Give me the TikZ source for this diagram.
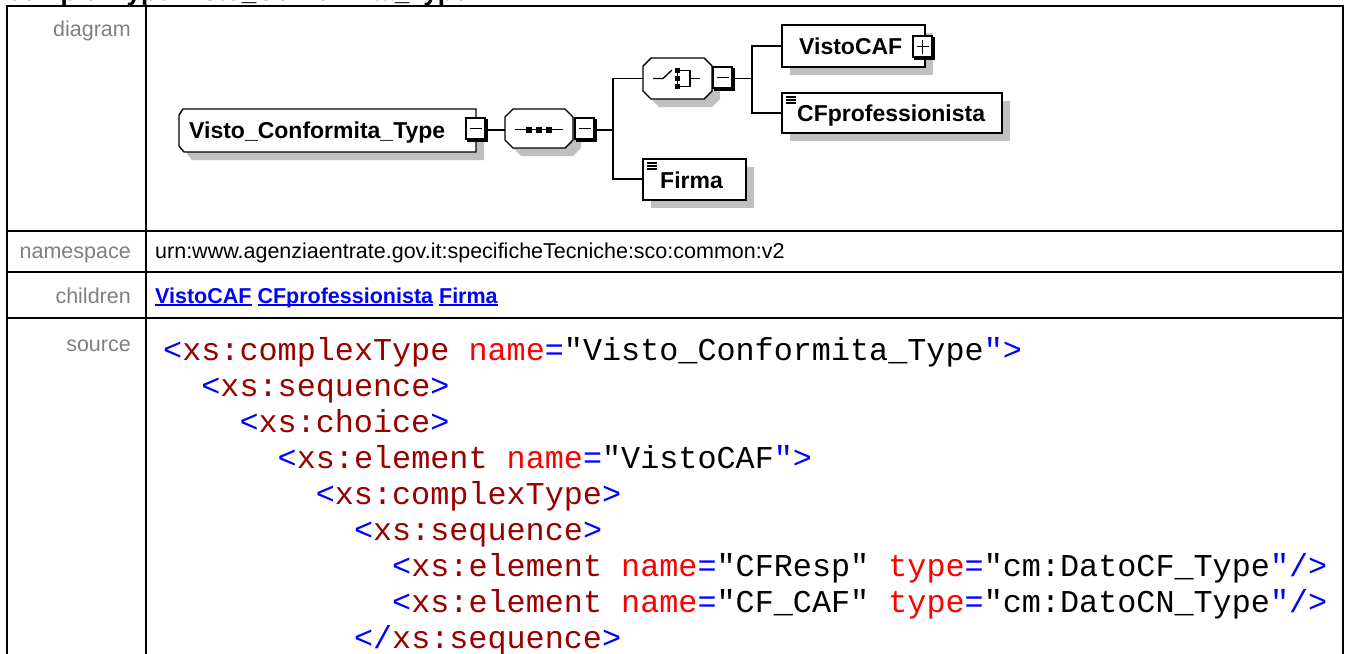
\documentclass[tikz,border=0pt]{standalone}
\usepackage{fontspec}
\setmainfont{Liberation Sans}
\setmonofont{Liberation Mono}
\definecolor{lblgray}{HTML}{808080}
\definecolor{shd}{HTML}{C0C0C0}
\definecolor{cblue}{HTML}{0000FF}
\definecolor{ctag}{HTML}{990000}
\definecolor{cattr}{HTML}{FF0000}
\definecolor{lnk}{HTML}{0000FF}
\newcommand\cB[1]{\textcolor{cblue}{#1}}
\newcommand\cT[1]{\textcolor{ctag}{#1}}
\newcommand\cA[1]{\textcolor{cattr}{#1}}
\newcommand\lnkword[1]{\setbox0\hbox{#1}\rlap{\rule[-3pt]{\wd0}{1.8pt}}\box0\relax}
\newcommand\xsMinus[2]{%
  \draw[fill=white, line width=1.2pt] (#1,#2) rectangle ++(19,21);
  \draw[line width=2.6pt] (#1+20.2,#2+1) -- (#1+20.2,#2+22.3) -- (#1+1,#2+22.3);
  \draw[line width=1.4pt] (#1+3.5,#2+10.5) -- ++(12,0);}
\newcommand\xsPlus[2]{%
  \xsMinus{#1}{#2}
  \draw[line width=1.4pt] (#1+9.5,#2+3.5) -- ++(0,14);}
\tikzset{
  tbl/.style={line width=2pt, line cap=rect},
  lbl/.style={anchor=base east, inner sep=0, text=lblgray, font=\fontsize{21.5pt}{26pt}\selectfont},
  val/.style={anchor=base west, inner sep=0, font=\fontsize{21.5pt}{26pt}\selectfont},
  etext/.style={anchor=base west, inner sep=0, font=\fontsize{23pt}{27pt}\selectfont\bfseries},
  code/.style={anchor=base west, inner sep=0, font=\fontsize{31.8pt}{36pt}\selectfont\ttfamily},
  outline/.style={draw=black, line width=1.4pt, fill=white},
  shadowfill/.style={fill=shd, draw=none},
  conn/.style={line width=1.4pt},
  icon/.style={line width=1.3pt},
}
\begin{document}
\begin{tikzpicture}[x=1pt, y=-1pt]
\useasboundingbox (0,0) rectangle (1348,653);
\clip (0,0) rectangle (1348,653);
\fill[white] (0,0) rectangle (1348,653);

% title (cut off by the top edge, as in the reference)
\node[anchor=base west, inner sep=0, font=\fontsize{26pt}{30pt}\selectfont\bfseries] (title) at (7,0.5) {complexType Visto\_Conformita\_Type};

% table
\draw[tbl] (7,6) -- (1343,6);
\draw[tbl] (7,6) -- (7,660);
\draw[tbl] (1343,6) -- (1343,660);
\draw[tbl] (146,6) -- (146,660);
\draw[tbl] (7,231) -- (1343,231);
\draw[tbl] (7,272) -- (1343,272);
\draw[tbl] (7,318) -- (1343,318);

% row labels
\node[lbl] (ldiag) at (131,36) {diagram};
\node[lbl] (lns) at (131,258) {namespace};
\node[lbl] (lch) at (131,303) {children};
\node[lbl] (lsrc) at (131,351) {source};

% namespace and children
\node[val] (ns) at (155,258) {urn:www.agenziaentrate.gov.it:specificheTecniche:sco:common:v2};
\node[val, font=\fontsize{21.5pt}{26pt}\selectfont\bfseries, text=lnk] (ch) at (155,303)
  {\lnkword{VistoCAF} \lnkword{CFprofessionista} \lnkword{Firma}};

% ---------- diagram ----------
% shadows
\path[shadowfill, shift={(8,8)}] (183,109) -- (476,109) -- (476,152) -- (184,152) -- (179,146) -- (179,115) -- cycle;
\path[shadowfill, shift={(8,8)}] (513,109) -- (565,109) -- (573,117) -- (573,140) -- (565,148) -- (513,148) -- (505,140) -- (505,117) -- cycle;
\path[shadowfill, shift={(8,8)}] (651,58) -- (704,58) -- (712,66) -- (712,91) -- (704,99) -- (651,99) -- (643,91) -- (643,66) -- cycle;
\fill[shd] (790,33) rectangle (933,75);
\fill[shd] (790,101) rectangle (1010,141);
\fill[shd] (651,167) rectangle (754,208);

% outlines
\draw[outline] (183,109) -- (476,109) -- (476,152) -- (184,152) -- (179,146) -- (179,115) -- cycle;
\draw[outline] (513,109) -- (565,109) -- (573,117) -- (573,140) -- (565,148) -- (513,148) -- (505,140) -- (505,117) -- cycle;
\draw[outline] (651,58) -- (704,58) -- (712,66) -- (712,91) -- (704,99) -- (651,99) -- (643,91) -- (643,66) -- cycle;
\draw[outline] (782,25) rectangle (925,67);
\draw[outline] (782,93) rectangle (1002,133);
\draw[outline] (643,159) rectangle (746,200);

% element texts
\node[etext] (vct) at (189,138) {Visto\_Conformita\_Type};
\node[etext] (visto) at (799,54) {VistoCAF};
\node[etext] (cfp) at (797,121) {CFprofessionista};
\node[etext] (firma) at (660,188) {Firma};

% simple-type icons
\foreach \yy in {97,100,103} \draw[line width=1.2pt] (786,\yy) -- (796,\yy);
\foreach \yy in {163,166,169} \draw[line width=1.2pt] (647,\yy) -- (657,\yy);

% sequence icon
\draw[icon] (515,129.5) -- (563,129.5);
\foreach \xx in {529,539,549} \fill (\xx-3,126.5) rectangle (\xx+3,132.5);

% choice icon
\draw[icon] (653,78.5) -- (663,78.5) -- (672,70);
\draw[line width=1pt] (677.5,70.5) -- (677.5,86.5);
\foreach \yy in {70.5,78.5,86.5} \fill (675,\yy-2.6) rectangle (680,\yy+2.6);
\draw[icon] (680,70.5) -- (690,70.5) -- (690,86.5) -- (680,86.5);
\draw[icon] (690,78.5) -- (700,78.5);

% connection points
\coordinate (vctR) at (487,130);
\coordinate (seqL) at (505,130);
\coordinate (seqR) at (597,130);
\coordinate (j1) at (613,130);
\coordinate (chL) at (643,78.5);
\coordinate (chR) at (734,78.5);
\coordinate (firmaL) at (643,179);
\coordinate (j2) at (752,78.5);
\coordinate (vistoL) at (782,46);
\coordinate (cfpL) at (782,113);

% connectors
\draw[conn] (vctR) -- (seqL);
\draw[conn] (seqR) -- (j1);
\draw[conn] (chL) -| (j1) |- (firmaL);
\draw[conn] (chR) -- (j2);
\draw[conn] (vistoL) -| (j2) |- (cfpL);

% expand/collapse boxes
\xsMinus{466}{118}
\xsMinus{575}{118}
\xsMinus{713}{67}
\xsPlus{913}{36}

% ---------- source ----------
\node[code] (s1) at (163,360) {\cB{<}\cT{xs:complexType} \cA{name}\cB{=}"Visto\_Conformita\_Type\cB{">}};
\node[code] (s2) at (201.2,396) {\cB{<}\cT{xs:sequence}\cB{>}};
\node[code] (s3) at (239.3,432) {\cB{<}\cT{xs:choice}\cB{>}};
\node[code] (s4) at (277.5,468) {\cB{<}\cT{xs:element} \cA{name}\cB{=}"VistoCAF\cB{">}};
\node[code] (s5) at (315.6,504) {\cB{<}\cT{xs:complexType}\cB{>}};
\node[code] (s6) at (353.8,540) {\cB{<}\cT{xs:sequence}\cB{>}};
\node[code] (s7) at (392,576) {\cB{<}\cT{xs:element} \cA{name}\cB{=}"CFResp" \cA{type}\cB{=}"cm:DatoCF\_Type\cB{"/>}};
\node[code] (s8) at (392,612) {\cB{<}\cT{xs:element} \cA{name}\cB{=}"CF\_CAF" \cA{type}\cB{=}"cm:DatoCN\_Type\cB{"/>}};
\node[code] (s9) at (353.8,648) {\cB{</}\cT{xs:sequence}\cB{>}};
\end{tikzpicture}
\end{document}
